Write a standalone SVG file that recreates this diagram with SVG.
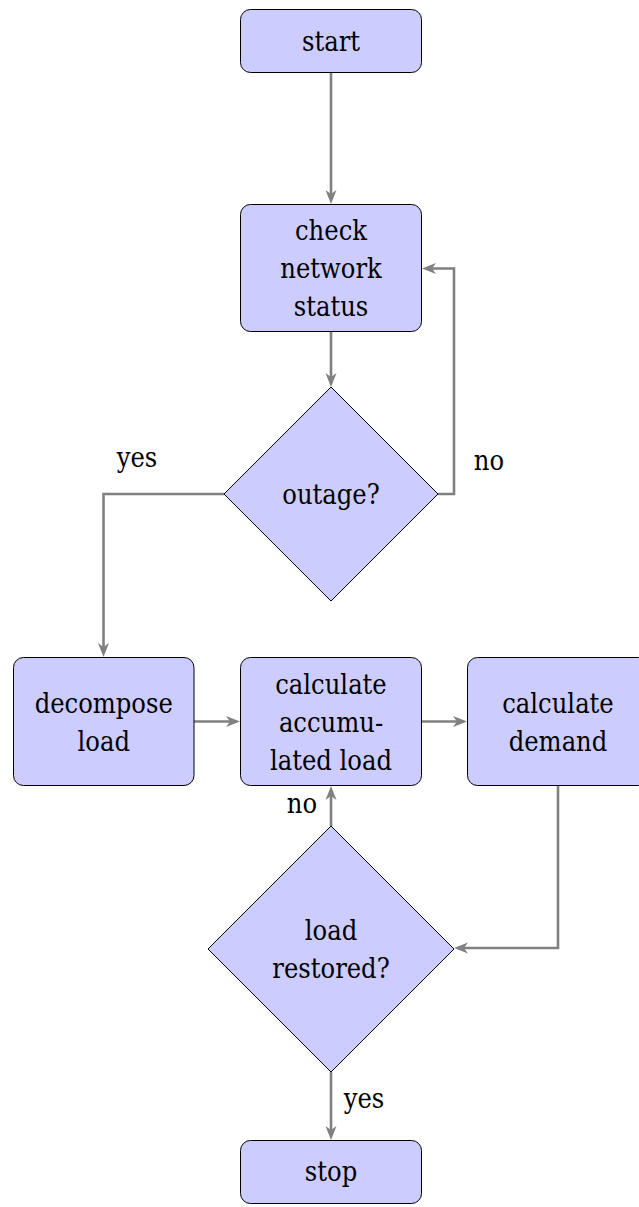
<svg xmlns="http://www.w3.org/2000/svg" width="639" height="1207" viewBox="0 0 639 1207">
  <defs>
    <style>
      .box { fill: #ccccff; stroke: #000; stroke-width: 1; }
      .lbl { font-family: "DejaVu Serif Condensed", "DejaVu Serif", serif; font-stretch: condensed; font-size: 27px; fill: #000; text-anchor: middle; }
      .edge { fill: none; stroke: #808080; stroke-width: 2.6; }
    </style>
    <marker id="head" markerUnits="userSpaceOnUse" markerWidth="16" markerHeight="14" viewBox="0 0 16 14" refX="8" refY="7" orient="auto">
      <path d="M0,1.5 L14,7 L0,12.5 L4,7 Z" fill="#808080"/>
    </marker>
  </defs>
  <rect width="639" height="1207" fill="#fff"/>

  <!-- connectors -->
  <g id="connectors">
    <path class="edge" d="M331,73 V198" marker-end="url(#head)"/>
    <path class="edge" d="M331,332 V381" marker-end="url(#head)"/>
    <path class="edge" d="M438,494 H454 V268.5 H428" marker-end="url(#head)"/>
    <path class="edge" d="M224,494 H103.5 V651" marker-end="url(#head)"/>
    <path class="edge" d="M194,721.5 H234" marker-end="url(#head)"/>
    <path class="edge" d="M422,721.5 H461" marker-end="url(#head)"/>
    <path class="edge" d="M558,786 V948 H460" marker-end="url(#head)"/>
    <path class="edge" d="M331,826 V792" marker-end="url(#head)"/>
    <path class="edge" d="M331,1072 V1134" marker-end="url(#head)"/>
    <text class="lbl" x="489" y="470">no</text>
    <text class="lbl" x="137" y="467">yes</text>
    <text class="lbl" x="302" y="813">no</text>
    <text class="lbl" x="364" y="1108">yes</text>
  </g>

  <g id="start">
    <rect class="box" x="240.5" y="9.5" width="181" height="63" rx="10"/>
    <text class="lbl" x="331" y="51">start</text>
  </g>

  <g id="check">
    <rect class="box" x="240.5" y="204.5" width="181" height="127" rx="10"/>
    <text class="lbl" x="331" y="240">check</text>
    <text class="lbl" x="331" y="278">network</text>
    <text class="lbl" x="331" y="316">status</text>
  </g>

  <g id="outage">
    <polygon class="box" points="331,387 438,494 331,601 224,494"/>
    <text class="lbl" x="331" y="504">outage?</text>
  </g>

  <g id="decompose">
    <rect class="box" x="13.5" y="657.5" width="180.5" height="128" rx="10"/>
    <text class="lbl" x="103.75" y="712.5">decompose</text>
    <text class="lbl" x="103.75" y="751">load</text>
  </g>

  <g id="accumulate">
    <rect class="box" x="240.5" y="657.5" width="181" height="128" rx="10"/>
    <text class="lbl" x="331" y="693.5">calculate</text>
    <text class="lbl" x="331" y="731.5">accumu-</text>
    <text class="lbl" x="331" y="769.5">lated load</text>
  </g>

  <g id="demand">
    <rect class="box" x="467.5" y="657.5" width="181" height="128" rx="10"/>
    <text class="lbl" x="558" y="712.5">calculate</text>
    <text class="lbl" x="558" y="751">demand</text>
  </g>

  <g id="restored">
    <polygon class="box" points="331,826 454,949 331,1072 208,949"/>
    <text class="lbl" x="331" y="940">load</text>
    <text class="lbl" x="331" y="978">restored?</text>
  </g>

  <g id="stop">
    <rect class="box" x="240.5" y="1140.5" width="181" height="63" rx="10"/>
    <text class="lbl" x="331" y="1181">stop</text>
  </g>
</svg>
